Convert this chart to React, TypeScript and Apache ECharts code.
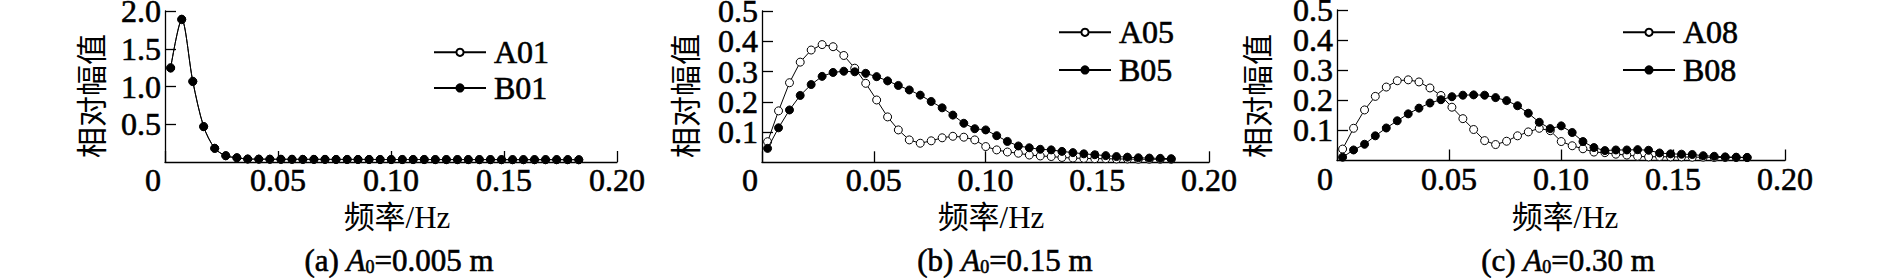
import React, { useEffect, useRef } from "react";
import * as echarts from "echarts";

// Frequencies (Hz) shared by all spectra
const FREQ = [
  0.0025, 0.0074, 0.0123, 0.0171, 0.022, 0.0269, 0.0318, 0.0366, 0.0415, 0.0464,
  0.0513, 0.0562, 0.061, 0.0659, 0.0708, 0.0757, 0.0806, 0.0854, 0.0903, 0.0952,
  0.1001, 0.105, 0.1098, 0.1147, 0.1196, 0.1245, 0.1294, 0.1342, 0.1391, 0.144,
  0.1489, 0.1538, 0.1586, 0.1635, 0.1684, 0.1733, 0.1782, 0.1831,
];

// Panel (a)
const A01 = [
  1.25, 1.885, 1.07, 0.47, 0.18, 0.082, 0.055, 0.039, 0.038, 0.037,
  0.036, 0.036, 0.035, 0.035, 0.035, 0.034, 0.034, 0.034, 0.034, 0.033,
  0.033, 0.033, 0.033, 0.033, 0.032, 0.032, 0.032, 0.032, 0.032, 0.032,
  0.031, 0.031, 0.031, 0.031, 0.031, 0.031, 0.031, 0.03,
];
const B01 = [
  1.243, 1.892, 1.065, 0.468, 0.182, 0.084, 0.057, 0.04, 0.038, 0.037,
  0.036, 0.036, 0.035, 0.035, 0.035, 0.034, 0.034, 0.034, 0.034, 0.033,
  0.033, 0.033, 0.033, 0.033, 0.032, 0.032, 0.032, 0.032, 0.032, 0.032,
  0.031, 0.031, 0.031, 0.031, 0.031, 0.031, 0.031, 0.03,
];

// Panel (b)
const A05 = [
  0.068, 0.17, 0.263, 0.331, 0.371, 0.389, 0.382, 0.353, 0.311, 0.261,
  0.206, 0.15, 0.107, 0.074, 0.063, 0.071, 0.081, 0.086, 0.083, 0.074,
  0.052, 0.041, 0.034, 0.03, 0.024, 0.021, 0.019, 0.016, 0.014, 0.013,
  0.012, 0.012, 0.011, 0.011, 0.01, 0.01, 0.01, 0.01,
];
const B05 = [
  0.046, 0.114, 0.173, 0.221, 0.257, 0.284, 0.297, 0.301, 0.299, 0.294,
  0.283, 0.269, 0.254, 0.239, 0.222, 0.201, 0.18, 0.156, 0.129, 0.111,
  0.107, 0.088, 0.069, 0.054, 0.048, 0.043, 0.041, 0.036, 0.032, 0.028,
  0.025, 0.022, 0.019, 0.017, 0.015, 0.014, 0.013, 0.012,
];

// Panel (c)
const A08 = [
  0.038, 0.107, 0.168, 0.213, 0.244, 0.265, 0.268, 0.261, 0.241, 0.216,
  0.177, 0.139, 0.103, 0.066, 0.053, 0.064, 0.082, 0.095, 0.107, 0.099,
  0.063, 0.049, 0.039, 0.028, 0.026, 0.021, 0.018, 0.014, 0.012, 0.013,
  0.012, 0.012, 0.011, 0.011, 0.01, 0.01, 0.01, 0.01,
];
const B08 = [
  0.011, 0.035, 0.054, 0.082, 0.108, 0.132, 0.155, 0.174, 0.191, 0.202,
  0.212, 0.217, 0.218, 0.217, 0.209, 0.199, 0.182, 0.157, 0.127, 0.106,
  0.115, 0.093, 0.063, 0.043, 0.033, 0.035, 0.035, 0.036, 0.034, 0.025,
  0.022, 0.021, 0.02, 0.016, 0.014, 0.012, 0.011, 0.01,
];

const X_MAX = 0.2;
const X_INTERVAL = 0.05;
const Y_MAX = [2, 0.5, 0.5];
const Y_INTERVAL = [0.5, 0.1, 0.1];
const SERIES_NAMES = [
  ["A01", "B01"],
  ["A05", "B05"],
  ["A08", "B08"],
];
const SERIES_VALUES = [
  [A01, B01],
  [A05, B05],
  [A08, B08],
];
const Y_NAME = "相对幅值";
const X_NAME = "频率/Hz";
const CAPTION_TAG = ["(a)", "(b)", "(c)"];
const CAPTION_VAL = ["=0.005 m", "=0.15 m", "=0.30 m"];

const SERIF = "Liberation Serif";
const FONT = "Liberation Serif, Noto Sans CJK SC, serif";

export default function App() {
  const ref = useRef<HTMLDivElement>(null);

  useEffect(() => {
    if (!ref.current) return;
    const chart = echarts.init(ref.current, undefined, { renderer: "svg" });

    const grids = [
      { left: 165, top: 11, width: 452, height: 151 },
      { left: 762, top: 11, width: 447, height: 151.3 },
      { left: 1337, top: 10, width: 448, height: 150.5 },
    ];
    const yNamePos = [
      [92, 96],
      [686, 96],
      [1258, 96],
    ];
    const xNamePos = [
      [397, 217],
      [991, 217],
      [1565, 217],
    ];
    const capPos = [
      [399, 260],
      [1005, 260],
      [1568, 260],
    ];
    const legendPos = [
      { left: 433, top: 36, gap: 3 },
      { left: 1058, top: 16, gap: 5 },
      { left: 1622, top: 16, gap: 5 },
    ];

    const lineStyleAxis = { color: "#000", width: 1.3 };
    const labelBase = {
      fontSize: 32,
      fontFamily: SERIF,
      color: "#000",
      textBorderColor: "#000",
      textBorderWidth: 0.6,
    };

    const xAxis = grids.map((_, i) => ({
      type: "value",
      gridIndex: i,
      min: 0,
      max: X_MAX,
      interval: X_INTERVAL,
      axisLine: { show: true, lineStyle: lineStyleAxis },
      axisTick: { show: true, inside: true, length: 11, lineStyle: lineStyleAxis },
      splitLine: { show: false },
      axisLabel: {
        ...labelBase,
        margin: 2,
        showMaxLabel: true,
        showMinLabel: true,
        hideOverlap: false,
        formatter: (v: number) => (v === 0 ? "{z|0}" : v.toFixed(2)),
        rich: {
          z: { ...labelBase, padding: [0, 24, 0, 0] },
        },
      },
    }));

    // main y axes: ticks, line and all labels except the top one
    const yMain = grids.map((_, i) => ({
      type: "value",
      gridIndex: i,
      position: "left",
      min: 0,
      max: Y_MAX[i],
      interval: Y_INTERVAL[i],
      axisLine: { show: true, lineStyle: lineStyleAxis },
      axisTick: { show: true, inside: true, length: 11, lineStyle: lineStyleAxis },
      splitLine: { show: false },
      axisLabel: {
        ...labelBase,
        margin: 4,
        showMinLabel: false,
        formatter: (v: number) =>
          v === 0 || Math.abs(v - Y_MAX[i]) < 1e-9 ? "" : v.toFixed(1),
      },
    }));
    // overlay y axes: only the top label
    const yTop = grids.map((_, i) => ({
      type: "value",
      gridIndex: i,
      position: "left",
      offset: 0,
      min: 0,
      max: Y_MAX[i],
      interval: Y_INTERVAL[i],
      axisLine: { show: false },
      axisTick: { show: false },
      splitLine: { show: false },
      axisLabel: {
        ...labelBase,
        margin: 4,
        showMinLabel: false,
        showMaxLabel: true,
        formatter: (v: number) =>
          Math.abs(v - Y_MAX[i]) < 1e-9 ? v.toFixed(1) : "",
      },
    }));

    const series: any[] = [];
    SERIES_VALUES.forEach((pair, i) => {
      pair.forEach((vals, j) => {
        series.push({
          type: "line",
          name: SERIES_NAMES[i][j],
          xAxisIndex: i,
          yAxisIndex: i,
          data: FREQ.map((f, k) => [f, vals[k]]),
          symbol: "circle",
          symbolSize: 8,
          showSymbol: true,
          smooth: i === 0 ? 0.3 : false,
          silent: true,
          lineStyle: { color: "#000", width: 1 },
          itemStyle:
            j === 0
              ? { color: "#fff", borderColor: "#000", borderWidth: 1 }
              : { color: "#000", borderColor: "#000", borderWidth: 1 },
          z: 2 + j,
        });
      });
    });

    const legend = legendPos.map((p, i) => ({
      data: SERIES_NAMES[i],
      orient: "vertical",
      left: p.left,
      top: p.top,
      padding: 0,
      itemGap: p.gap,
      itemWidth: 52,
      itemHeight: 9,
      selectedMode: false,
      textStyle: {
        ...labelBase,
        lineHeight: 32,
        padding: [0, 0, 0, 3],
      },
    }));

    const textStroke = { stroke: "#000", lineWidth: 0.6 };
    const graphic: any[] = [];
    for (let i = 0; i < 3; i++) {
      graphic.push({
        type: "text",
        x: yNamePos[i][0],
        y: yNamePos[i][1],
        rotation: Math.PI / 2,
        style: {
          text: Y_NAME,
          x: 0,
          y: 0,
          align: "center",
          verticalAlign: "middle",
          fill: "#000",
          fontSize: 31,
          fontFamily: FONT,
        },
      });
      graphic.push({
        type: "text",
        x: xNamePos[i][0],
        y: xNamePos[i][1],
        style: {
          text: X_NAME,
          x: 0,
          y: 0,
          align: "center",
          verticalAlign: "middle",
          fill: "#000",
          fontSize: 31,
          fontFamily: FONT,
        },
      });
      graphic.push({
        type: "text",
        x: capPos[i][0],
        y: capPos[i][1],
        style: {
          text: `{n|${CAPTION_TAG[i]} }{i|A}{s|0}{n|${CAPTION_VAL[i]}}`,
          x: 0,
          y: 0,
          align: "center",
          verticalAlign: "middle",
          fill: "#000",
          fontSize: 31,
          fontFamily: SERIF,
          ...textStroke,
          rich: {
            n: { fontSize: 31, fontFamily: SERIF, fill: "#000", lineHeight: 31, ...textStroke },
            i: {
              fontSize: 31,
              fontFamily: SERIF,
              fontStyle: "italic",
              fill: "#000",
              lineHeight: 31,
              ...textStroke,
            },
            s: {
              fontSize: 18,
              fontFamily: SERIF,
              fill: "#000",
              lineHeight: 10,
              verticalAlign: "bottom",
            },
          },
        },
      });
    }

    chart.setOption({
      animation: false,
      backgroundColor: "#fff",
      grid: grids.map((g) => ({ ...g, containLabel: false, outerBoundsMode: "none" })),
      xAxis,
      yAxis: [...yMain, ...yTop],
      legend,
      series,
      graphic,
    });

    return () => chart.dispose();
  }, []);

  return (
    <div
      ref={ref}
      style={{ position: "fixed", left: 0, top: 0, width: 1889, height: 278 }}
    />
  );
}
